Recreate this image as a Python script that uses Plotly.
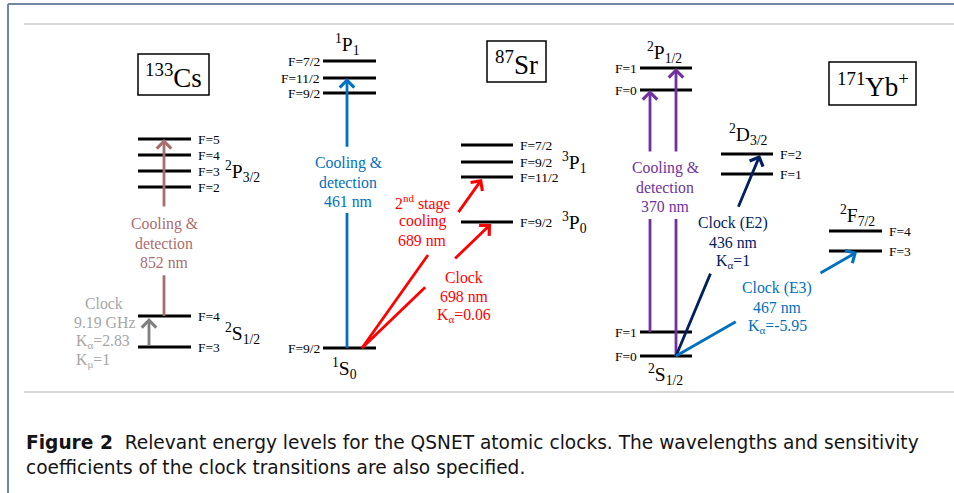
import plotly.graph_objects as go

W, H = 954, 493

# ---------------- data ----------------
# 133Cs
cs_p32_F = ["F=5", "F=4", "F=3", "F=2"]
cs_p32_E = [139, 155, 171, 187]
cs_s12_F = ["F=4", "F=3"]
cs_s12_E = [316, 347]
# 87Sr
sr_1p1_F = ["F=7/2", "F=11/2", "F=9/2"]
sr_1p1_E = [61, 78, 93]
sr_3p1_F = ["F=7/2", "F=9/2", "F=11/2"]
sr_3p1_E = [145, 162, 177]
sr_3p0_F = ["F=9/2"]
sr_3p0_E = [222]
sr_1s0_F = ["F=9/2"]
sr_1s0_E = [348]
# 171Yb+
yb_p12_F = ["F=1", "F=0"]
yb_p12_E = [68, 90]
yb_d32_F = ["F=2", "F=1"]
yb_d32_E = [154, 174]
yb_f72_F = ["F=4", "F=3"]
yb_f72_E = [231, 251]
yb_s12_F = ["F=1", "F=0"]
yb_s12_E = [332, 356]

atom_names = ["<sup>133</sup>Cs", "<sup>87</sup>Sr", "<sup>171</sup>Yb<sup>+</sup>"]

txt_cs_cool = ["Cooling &amp;", "detection", "852 nm"]
txt_cs_clock = ["Clock", "9.19 GHz", "K<sub>α</sub>=2.83", "K<sub>μ</sub>=1"]
txt_sr_cool = ["Cooling &amp;", "detection", "461 nm"]
txt_sr_689 = ["2<sup>nd</sup> stage", "cooling", "689 nm"]
txt_sr_698 = ["Clock", "698 nm", "K<sub>α</sub>=0.06"]
txt_yb_cool = ["Cooling &amp;", "detection", "370 nm"]
txt_yb_e2 = ["Clock (E2)", "436 nm", "K<sub>α</sub>=1"]
txt_yb_e3 = ["Clock (E3)", "467 nm", "K<sub>α</sub>=-5.95"]

caption_1 = ("<b>Figure 2</b>  Relevant energy levels for the QSNET atomic clocks. "
             "The wavelengths and sensitivity")
caption_2 = "coefficients of the clock transitions are also specified."

# ---------------- styles ----------------
SERIF = "Liberation Serif"
SANS = "DejaVu Sans"
BROWN = "#A86E6E"
GRAY_A = "#7F7F7F"
GRAY_T = "#A6A6A6"
BLUE = "#0070C0"
RED = "#FF0000"
PURPLE = "#7030A0"
NAVY = "#002060"

fig = go.Figure()

# ---- energy levels ----
# (energies, F labels, x0, x1, F-label side)
manifolds = [
    (cs_p32_E, cs_p32_F, 138, 191, "right"),
    (cs_s12_E, cs_s12_F, 138, 191, "right"),
    (sr_1p1_E, sr_1p1_F, 323, 376, "left"),
    (sr_3p1_E, sr_3p1_F, 461, 513, "right"),
    (sr_3p0_E, sr_3p0_F, 461, 513, "right"),
    (sr_1s0_E, sr_1s0_F, 323, 376, "left"),
    (yb_p12_E, yb_p12_F, 640, 692, "left"),
    (yb_d32_E, yb_d32_F, 721, 773, "right"),
    (yb_f72_E, yb_f72_F, 829, 882, "right"),
    (yb_s12_E, yb_s12_F, 640, 692, "left"),
]
lx, ly = [], []
for E, F, x0, x1, side in manifolds:
    for e, f in zip(E, F):
        lx += [x0, x1, None]
        ly += [e, e, None]
        if side == "right":
            fig.add_annotation(x=x1 + 5, y=e, text=f, xanchor="left", yanchor="middle",
                               showarrow=False, font=dict(family=SERIF, size=13.5, color="black"))
        else:
            fig.add_annotation(x=x0 - 1, y=e, text=f, xanchor="right", yanchor="middle",
                               showarrow=False, font=dict(family=SERIF, size=13.5, color="black"))
fig.add_trace(go.Scatter(x=lx, y=ly, mode="lines", line=dict(color="black", width=3),
                         hoverinfo="skip", showlegend=False))

# ---- term labels ----
terms = [
    ("<sup>2</sup>P<sub>3/2</sub>", 223, cs_p32_E[2], "left"),
    ("<sup>2</sup>S<sub>1/2</sub>", 223, 333, "left"),
    ("<sup>1</sup>P<sub>1</sub>", 347, 44, "center"),
    ("<sup>3</sup>P<sub>1</sub>", 560, sr_3p1_E[1], "left"),
    ("<sup>3</sup>P<sub>0</sub>", 560, sr_3p0_E[0], "left"),
    ("<sup>1</sup>S<sub>0</sub>", 344, 368, "center"),
    ("<sup>2</sup>P<sub>1/2</sub>", 664, 52, "center"),
    ("<sup>2</sup>D<sub>3/2</sub>", 748, 134, "center"),
    ("<sup>2</sup>F<sub>7/2</sub>", 857, 215, "center"),
    ("<sup>2</sup>S<sub>1/2</sub>", 665, 374, "center"),
]
for t, x, y, anc in terms:
    fig.add_annotation(x=x, y=y, text=t, xanchor=anc, yanchor="middle", showarrow=False,
                       font=dict(family=SERIF, size=19.5, color="black"))

# ---- atom boxes ----
boxes = [(138, 209, 54, 95), (487, 546, 41, 82), (829, 916, 62, 105)]
for name, (x0, x1, y0, y1) in zip(atom_names, boxes):
    fig.add_shape(type="rect", x0=x0, x1=x1, y0=y0, y1=y1, line=dict(color="black", width=1.5),
                  fillcolor="white", layer="below")
    fig.add_annotation(x=(x0 + x1) / 2, y=(y0 + y1) / 2 + 1, text=name, showarrow=False,
                       xanchor="center", yanchor="middle",
                       font=dict(family=SERIF, size=27, color="black"))

# ---- transitions ----
# (start x, start E, end x, end E, gap fraction (t0,t1) or None, colour)
arrows = [
    (164, cs_s12_E[0], 164, cs_p32_E[0], (0.23, 0.61), BROWN),
    (149, cs_s12_E[1], 149, cs_s12_E[0] + 2, None, GRAY_A),
    (347, sr_1s0_E[0], 347, sr_1p1_E[1], (0.50, 0.74), BLUE),
    (362, sr_1s0_E[0], 482, sr_3p1_E[2] + 2, (0.55, 0.795), RED),
    (362, sr_1s0_E[0], 491, sr_3p0_E[0] + 2, (0.49, 0.71), RED),
    (650, yb_s12_E[0], 650, yb_p12_E[1], (0.467, 0.74), PURPLE),
    (676, yb_s12_E[1], 676, yb_p12_E[0], (0.476, 0.705), PURPLE),
    (676, yb_s12_E[1], 760, yb_d32_E[0] + 1, (0.41, 0.735), NAVY),
    (676, yb_s12_E[1], 857, yb_f72_E[1] + 1, (0.33, 0.79), BLUE),
]
for x0, y0, x1, y1, gap, c in arrows:
    if gap is not None:
        t0, t1 = gap
        gx0, gy0 = x0 + (x1 - x0) * t0, y0 + (y1 - y0) * t0
        gx1, gy1 = x0 + (x1 - x0) * t1, y0 + (y1 - y0) * t1
        fig.add_trace(go.Scatter(x=[x0, gx0], y=[y0, gy0], mode="lines",
                                 line=dict(color=c, width=2.8), hoverinfo="skip", showlegend=False))
    else:
        gx1, gy1 = x0, y0
    fig.add_annotation(x=x1, y=y1, ax=gx1, ay=gy1, xref="x", yref="y", axref="x", ayref="y",
                       text="", showarrow=True, arrowhead=4, arrowsize=1.0, arrowwidth=2.8,
                       arrowcolor=c, standoff=0)

# ---- transition texts ----
texts = [
    (txt_cs_cool, [164, 164, 164], 224, BROWN),
    (txt_cs_clock, [104, 104, 103, 93], 303, GRAY_T),
    (txt_sr_cool, [348, 348, 348], 163, BLUE),
    (txt_sr_689, [422, 422, 422], 202, RED),
    (txt_sr_698, [464, 464, 464], 277, RED),
    (txt_yb_cool, [665, 665, 665], 168, PURPLE),
    (txt_yb_e2, [733, 733, 733], 223, NAVY),
    (txt_yb_e3, [777, 777, 777], 288, BLUE),
]
for lines, xs, y0, c in texts:
    for i, (ln, x) in enumerate(zip(lines, xs)):
        fig.add_annotation(x=x, y=y0 + 19 * i, text=ln, showarrow=False, xanchor="center",
                           yanchor="middle", font=dict(family=SERIF, size=15.8, color=c))

# ---- page frame & rules ----
fig.add_shape(type="line", x0=8, x1=8, y0=4, y1=H, line=dict(color="#6F88A6", width=2))
fig.add_shape(type="line", x0=8, x1=W, y0=4, y1=4, line=dict(color="#6F88A6", width=2))
for yy in (24, 392):
    fig.add_shape(type="line", x0=24, x1=W, y0=yy, y1=yy, line=dict(color="#C8C8C8", width=1.5))

# ---- caption ----
fig.add_annotation(x=24, y=442, text=caption_1, showarrow=False, xanchor="left", yanchor="middle",
                   font=dict(family=SANS, size=18.6, color="#151515"))
fig.add_annotation(x=24, y=467, text=caption_2, showarrow=False, xanchor="left", yanchor="middle",
                   font=dict(family=SANS, size=18.6, color="#151515"))

fig.update_layout(
    width=W, height=H, margin=dict(l=0, r=0, t=0, b=0),
    paper_bgcolor="white", plot_bgcolor="white",
    xaxis=dict(range=[0, W], visible=False, fixedrange=True),
    yaxis=dict(range=[H, 0], visible=False, fixedrange=True),
    showlegend=False,
)

fig.write_html("out.html", post_script="document.body.style.margin='0px';",
               config={"displayModeBar": False})
